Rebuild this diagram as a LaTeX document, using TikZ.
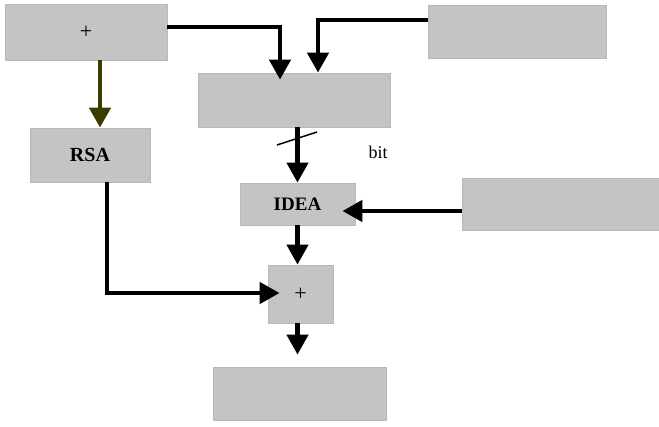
\documentclass[tikz,border=0pt]{standalone}
\usepackage{fontspec}
\setmainfont{Liberation Serif}
\usetikzlibrary{arrows.meta}
\definecolor{boxgray}{RGB}{196,196,196}
\definecolor{boxedge}{RGB}{184,184,184}
\definecolor{olivearrow}{RGB}{60,60,0}
\tikzset{
  gbox/.style={rectangle, fill=boxgray, draw=boxedge, line width=0.8pt, inner sep=0pt, font=\fontsize{18}{20}\selectfont},
  plustext/.style={font=\fontsize{22}{24}\selectfont},
  conn/.style={line width=4.5pt, -{Triangle[width=21pt,length=20pt]}},
  slash/.style={line width=1.5pt},
  lbl/.style={font=\fontsize{18}{20}\selectfont, inner sep=0pt}
}
\begin{document}
\begin{tikzpicture}[x=1pt,y=-1pt]
\useasboundingbox (0,0) rectangle (659,426);
\node[gbox, plustext, minimum width=162pt, minimum height=56pt] (A) at (86,32) {+};
\node[gbox, minimum width=178pt, minimum height=53pt] (B) at (517,31.5) {};
\node[gbox, minimum width=192pt, minimum height=54pt] (C) at (294,100) {};
\node[gbox, font=\fontsize{20}{22}\selectfont\bfseries, minimum width=120pt, minimum height=54pt] (R) at (90,155) {RSA};
\node[gbox, font=\fontsize{19}{21}\selectfont\bfseries, minimum width=115pt, minimum height=42pt] (I) at (297.5,204) {IDEA};
\node[gbox, minimum width=197pt, minimum height=52pt] (E) at (560.5,204) {};
\node[gbox, plustext, minimum width=65pt, minimum height=58pt] (P) at (300.5,294) {+};
\node[gbox, minimum width=173pt, minimum height=53pt] (F) at (299.5,393.5) {};
\node[lbl] (bit) at (378,152) {bit};
% connectors
\draw[conn] ([yshift=5pt]A.east) -| ([xshift=-14pt,yshift=-7pt]C.north);
\draw[conn] ([yshift=11.5pt]B.west) -| ([xshift=24pt]C.north);
\draw[conn, draw=olivearrow, fill=olivearrow] ([xshift=14pt]A.south) -- ([xshift=10pt]R.north);
\draw[conn] (I.north |- C.south) -- (I.north);
\draw[slash] (277,145) -- (317,132);
\draw[conn] ([yshift=-7pt]E.west) -- ([xshift=-13pt,yshift=-7pt]I.east);
\draw[conn] (I.south) -- (I.south |- P.north);
\draw[conn] ([xshift=17pt]R.south) |- ([xshift=12pt,yshift=1pt]P.west);
\draw[conn, shorten >=12pt] (I.south |- P.south) -- (I.south |- F.north);
\end{tikzpicture}
\end{document}
